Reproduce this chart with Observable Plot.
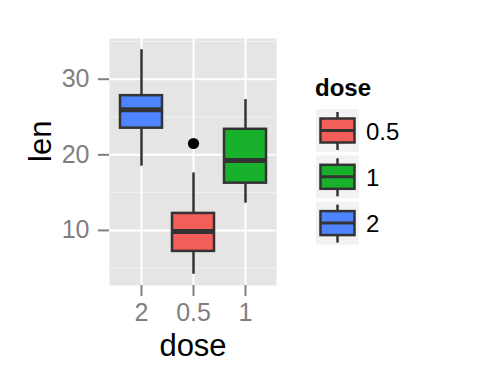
<!DOCTYPE html>
<html>
<head>
<meta charset="utf-8">
<script src="https://cdn.jsdelivr.net/npm/d3@7"></script>
<script src="https://cdn.jsdelivr.net/npm/@observablehq/plot@0.6"></script>
<style>
  html, body { margin: 0; padding: 0; background: white; }
  #chart { width: 480px; height: 384px; }
</style>
</head>
<body>
<div id="chart"></div>
<script>
// Categories (x order as drawn) and legend order
const doses = ["2", "0.5", "1"];
const legendDoses = ["0.5", "1", "2"];
const doseColors = ["#F35E5A", "#18B12C", "#4E84FF"];

// Box statistics per dose (same order as doses)
const whiskerLow = [18.5, 4.2, 13.6];
const q1 = [23.525, 7.225, 16.25];
const medians = [25.95, 9.85, 19.25];
const q3 = [27.825, 12.25, 23.375];
const whiskerHigh = [33.9, 17.6, 27.3];

// Outliers
const outlierDose = ["0.5"];
const outlierLen = [21.5];

// Axis ticks
const yTicks = [10, 20, 30];
const yMinor = [5, 15, 25, 35];

const rows = doses.map((d, i) => ({
  dose: d, lo: whiskerLow[i], q1: q1[i], med: medians[i], q3: q3[i], hi: whiskerHigh[i]
}));
const outliers = outlierDose.map((d, i) => ({dose: d, len: outlierLen[i]}));

const font = "'Liberation Sans', Arial, Helvetica, sans-serif";
const dark = "#333333";
const grey = "#7F7F7F";

const chart = Plot.plot({
  width: 480,
  height: 384,
  marginLeft: 109,
  marginRight: 204,
  marginTop: 38,
  marginBottom: 99,
  style: {fontFamily: font, background: "white", overflow: "visible"},
  x: {domain: doses, paddingInner: 0.2, paddingOuter: 0.2, axis: null, label: null},
  y: {domain: [2.715, 35.385], axis: null, label: null},
  color: {domain: legendDoses, range: doseColors},
  marks: [
    Plot.frame({fill: "#E5E5E5", stroke: null}),
    Plot.gridY(yMinor, {stroke: "#F2F2F2", strokeOpacity: 1, strokeWidth: 1}),
    Plot.gridY(yTicks, {stroke: "white", strokeOpacity: 1, strokeWidth: 2}),
    Plot.gridX(doses, {stroke: "white", strokeOpacity: 1, strokeWidth: 2}),
    Plot.ruleX(rows, {x: "dose", y1: "lo", y2: "q1", stroke: dark, strokeWidth: 2.5}),
    Plot.ruleX(rows, {x: "dose", y1: "q3", y2: "hi", stroke: dark, strokeWidth: 2.5}),
    Plot.barY(rows, {x: "dose", y1: "q1", y2: "q3", fill: "dose", stroke: dark, strokeWidth: 2.5}),
    Plot.tickY(rows, {x: "dose", y: "med", stroke: dark, strokeWidth: 5}),
    Plot.dot(outliers, {x: "dose", y: "len", r: 5.6, fill: "black", stroke: null}),
    Plot.axisY(yTicks, {tickSize: 11, tickPadding: 9, color: grey, strokeWidth: 2, fontSize: 25, label: null}),
    Plot.axisX(doses, {tickSize: 11, tickPadding: 7, color: grey, strokeWidth: 2, fontSize: 25, label: null}),
    Plot.text(["len"], {frameAnchor: "left", dx: -68, rotate: -90, fontSize: 31, fill: "black"}),
    Plot.text(["dose"], {frameAnchor: "bottom", dy: 70, lineAnchor: "bottom", fontSize: 31, fill: "black"})
  ]
});

document.getElementById("chart").appendChild(chart);

// Legend (drawn inside the same SVG, to the right of the panel)
const svg = d3.select(chart);
const lg = svg.append("g").attr("font-family", font).attr("text-anchor", "start");
lg.append("text").attr("x", 315).attr("y", 96).attr("text-anchor", "start")
  .attr("font-size", 24).attr("font-weight", "bold").attr("fill", "black").text("dose");
const keySize = 43, keyX = 316, keyY0 = 109, keyStep = 46.3;
legendDoses.forEach((d, i) => {
  const y = keyY0 + i * keyStep;
  const g = lg.append("g").attr("transform", `translate(${keyX},${y})`);
  g.append("rect").attr("width", keySize).attr("height", keySize).attr("fill", "#F2F2F2");
  g.append("line").attr("x1", keySize / 2).attr("x2", keySize / 2).attr("y1", 3).attr("y2", 41)
    .attr("stroke", dark).attr("stroke-width", 2.5);
  g.append("rect").attr("x", 4.5).attr("y", 9.5).attr("width", 34).attr("height", 24)
    .attr("fill", doseColors[i]).attr("stroke", dark).attr("stroke-width", 2.5);
  g.append("line").attr("x1", 4.5).attr("x2", 38.5).attr("y1", 21.5).attr("y2", 21.5)
    .attr("stroke", dark).attr("stroke-width", 3);
  lg.append("text").attr("x", 366).attr("y", y + 22).attr("dominant-baseline", "central")
    .attr("text-anchor", "start")
    .attr("font-size", 24).attr("fill", "black").text(d);
});
</script>
</body>
</html>
